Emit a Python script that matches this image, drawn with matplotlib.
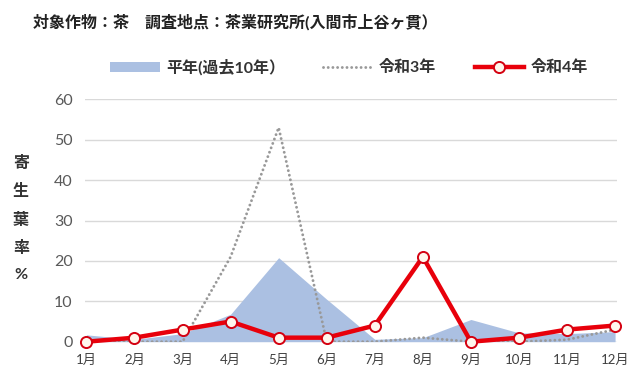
import matplotlib
matplotlib.use("Agg")
import matplotlib.pyplot as plt
from matplotlib.patches import Patch
from matplotlib.lines import Line2D

months = ["1月", "2月", "3月", "4月", "5月", "6月", "7月", "8月", "9月", "10月", "11月", "12月"]
heinen = [1.7, 0.6, 2.0, 6.8, 20.8, 10.5, 0.6, 1.0, 5.5, 2.2, 2.0, 2.5]
r3 = [0, 0, 0, 21, 53, 0, 0, 1, 0, 0, 0.5, 3]
r4 = [0, 1, 3, 5, 1, 1, 4, 21, 0, 1, 3, 4]
yticks = [0, 10, 20, 30, 40, 50, 60]

title = "対象作物：茶　調査地点：茶業研究所(入間市上谷ヶ貫）"
lab_heinen = "平年(過去10年）"
lab_r3 = "令和3年"
lab_r4 = "令和4年"
ylab = "寄\n生\n葉\n率\n%"

FAM = ["Lato", "Noto Sans CJK JP", "DejaVu Sans"]
plt.rcParams['font.family'] = FAM

fig = plt.figure(figsize=(6.3, 3.76), dpi=100)
ax = fig.add_axes([0.1349, 0.0912, 0.8437, 0.6447])

x = list(range(1, len(months) + 1))
area_c = '#abc0e2'
dot_style = (0, (0.01, 1.6))
dot_c = '#999999'
ax.fill_between(x, 0, heinen, color=area_c, linewidth=0, zorder=2)
ax.plot(x, r3, color=dot_c, lw=2.1, linestyle=dot_style,
        dash_capstyle='round', zorder=3)
ax.plot(x, r4, color='#e8000b', lw=3.2, marker='o', markersize=8,
        markerfacecolor='#fff6ec', markeredgecolor='#d40010', markeredgewidth=1.4,
        zorder=4, clip_on=False)

ax.set_xlim(0.97, 12.03)
ax.set_ylim(0, 60)
ax.set_yticks(yticks)
ax.set_yticklabels([str(v) for v in yticks])
ax.set_xticks(x)
ax.set_xticklabels(months)
ax.grid(axis='y', color='#d9d9d9', lw=1.0, zorder=1)
ax.set_axisbelow(True)
for s in ax.spines.values():
    s.set_visible(False)
ax.tick_params(axis='y', length=0, pad=9, labelsize=11.5, labelcolor='#595959')
ax.tick_params(axis='x', length=0, pad=9, labelsize=9.5, labelcolor='#404040')

fig.text(33 / 630, 1 - 22 / 376, title, fontsize=11.5, fontweight='bold',
         color='#222222', ha='left', va='center')

fig.text(21 / 630, 1 - 219 / 376, ylab, fontsize=11.5, fontweight='bold',
         color='#333333', ha='center', va='center', linespacing=2.1)

handles = [
    Patch(facecolor=area_c, edgecolor='none'),
    Line2D([0], [0], color=dot_c, lw=2.1, linestyle=dot_style, dash_capstyle='round'),
    Line2D([0], [0], color='#e8000b', lw=3.2, marker='o', markersize=8,
           markerfacecolor='#fff6ec', markeredgecolor='#d40010', markeredgewidth=1.4),
]
leg = fig.legend(handles, [lab_heinen, lab_r3, lab_r4], loc='center',
                 bbox_to_anchor=(349 / 630, 1 - 67 / 376), ncol=3, frameon=False,
                 handlelength=3.1, handleheight=0.6, handletextpad=0.4,
                 columnspacing=2.4, prop={'size': 11.5, 'weight': 'bold', 'family': FAM})
for t in leg.get_texts():
    t.set_color('#333333')

fig.savefig("out.png", dpi=100)
